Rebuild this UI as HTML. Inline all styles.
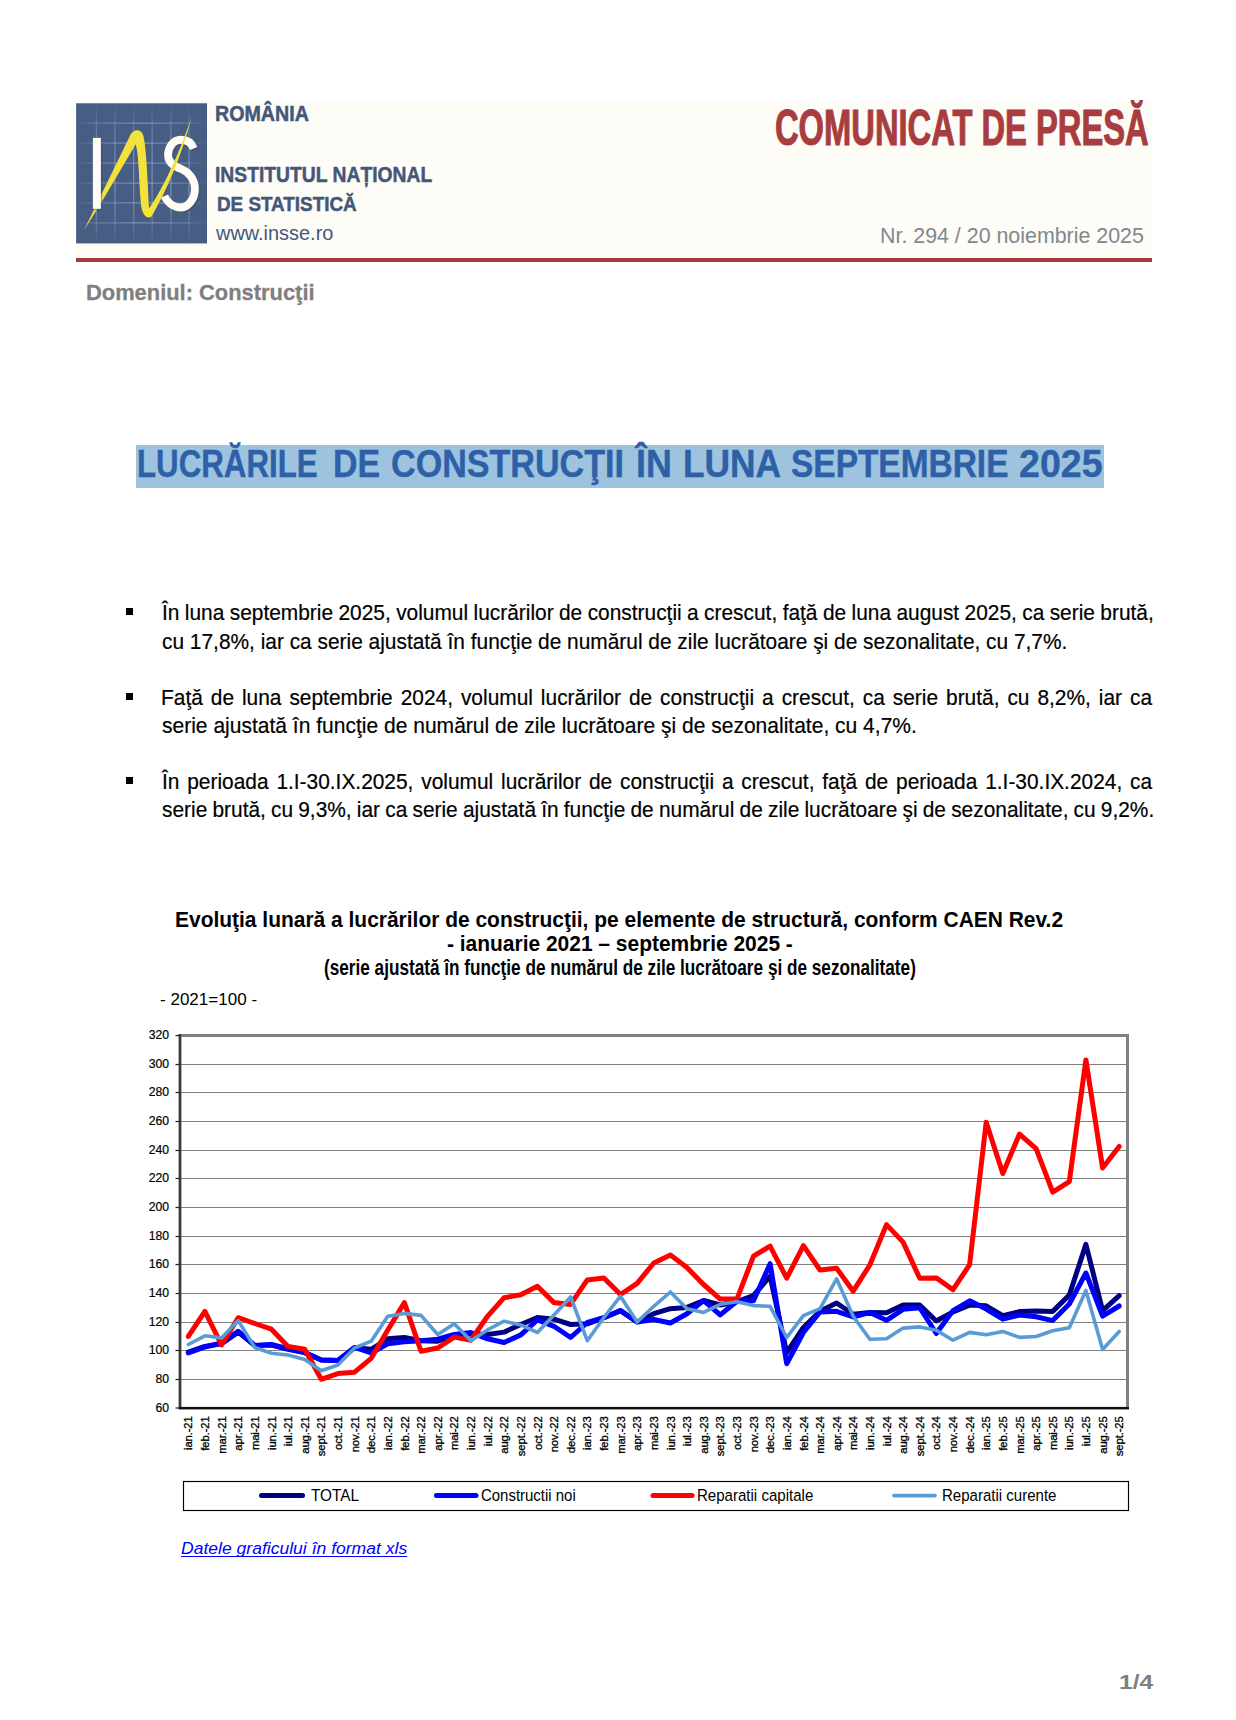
<!DOCTYPE html>
<html lang="ro"><head><meta charset="utf-8"><title>Comunicat de presă - Lucrările de construcţii în luna septembrie 2025</title>
<style>
html,body{margin:0;padding:0;background:#fff}
body{width:1236px;height:1720px;position:relative;overflow:hidden;font-family:"Liberation Sans", sans-serif}
.t{position:absolute;white-space:nowrap;line-height:1;transform-origin:0 0;display:block}
h1{margin:0;font-size:0;font-weight:normal}
.hdr{position:absolute;left:76px;top:101.2px;width:1076px;height:157.4px;background:#fefcf7}
.rule{position:absolute;left:76px;top:258.2px;width:1076px;height:4px;background:#a83a3e}
.hl{position:absolute;left:135.8px;top:445px;width:968px;height:42.5px;background:#9dc3df}
.bul{position:absolute;left:125.7px;width:7px;height:7px;background:#000}
</style></head><body>
<div class="hdr"></div><div class="rule"></div>
<svg class="logo" width="145" height="152" viewBox="0 0 1236 1296" style="position:absolute;left:70px;top:98px">
<defs><linearGradient id="gv" gradientUnits="userSpaceOnUse" x1="0" y1="45" x2="0" y2="1240"><stop offset="0" stop-color="#8aa0c8" stop-opacity="0"/><stop offset=".18" stop-color="#8aa0c8" stop-opacity=".45"/><stop offset=".5" stop-color="#8aa0c8" stop-opacity=".75"/><stop offset=".85" stop-color="#8aa0c8" stop-opacity=".45"/><stop offset="1" stop-color="#8aa0c8" stop-opacity="0"/></linearGradient><linearGradient id="gh" gradientUnits="userSpaceOnUse" x1="52" y1="0" x2="1168" y2="0"><stop offset="0" stop-color="#8aa0c8" stop-opacity="0"/><stop offset=".15" stop-color="#8aa0c8" stop-opacity=".45"/><stop offset=".5" stop-color="#8aa0c8" stop-opacity=".75"/><stop offset=".85" stop-color="#8aa0c8" stop-opacity=".45"/><stop offset="1" stop-color="#8aa0c8" stop-opacity="0"/></linearGradient></defs>
<rect x="52" y="45" width="1116" height="1195" fill="#485d84"/>
<line x1="225" x2="225" y1="45" y2="1240" stroke="url(#gv)" stroke-width="11"/>
<line x1="383" x2="383" y1="45" y2="1240" stroke="url(#gv)" stroke-width="11"/>
<line x1="543" x2="543" y1="45" y2="1240" stroke="url(#gv)" stroke-width="11"/>
<line x1="700" x2="700" y1="45" y2="1240" stroke="url(#gv)" stroke-width="11"/>
<line x1="860" x2="860" y1="45" y2="1240" stroke="url(#gv)" stroke-width="11"/>
<line x1="1015" x2="1015" y1="45" y2="1240" stroke="url(#gv)" stroke-width="11"/>
<line y1="215" y2="215" x1="52" x2="1168" stroke="url(#gh)" stroke-width="11"/>
<line y1="385" y2="385" x1="52" x2="1168" stroke="url(#gh)" stroke-width="11"/>
<line y1="555" y2="555" x1="52" x2="1168" stroke="url(#gh)" stroke-width="11"/>
<line y1="725" y2="725" x1="52" x2="1168" stroke="url(#gh)" stroke-width="11"/>
<line y1="895" y2="895" x1="52" x2="1168" stroke="url(#gh)" stroke-width="11"/>
<line y1="1065" y2="1065" x1="52" x2="1168" stroke="url(#gh)" stroke-width="11"/>
<path d="M1055 431 C1030 370 990 356 947 356 C880 356 836 420 836 489 C836 560 900 590 954 608 C1010 630 1065 690 1065 774 C1065 870 1000 934 942 934 C880 934 830 890 805 837" fill="none" stroke="#3a4a6a" stroke-opacity=".5" stroke-width="67" transform="translate(13,13)"/>
<path d="M1055 431 C1030 370 990 356 947 356 C880 356 836 420 836 489 C836 560 900 590 954 608 C1010 630 1065 690 1065 774 C1065 870 1000 934 942 934 C880 934 830 890 805 837" fill="none" stroke="#fffdf6" stroke-width="67"/>
<path d="M120 1125 L505 335 C530 270 600 250 625 320 C655 450 665 800 674 941 C775 800 915 520 1037 162 C945 520 815 800 698 1006 C670 1035 625 1020 608 930 C585 700 590 500 560 395 L262 900 Z" fill="#f4e23c"/>
<rect x="207" y="352" width="68" height="605" fill="#3a4a6a" fill-opacity=".45"/>
<rect x="195" y="340" width="68" height="605" fill="#fffdf6"/>
</svg>
<div class="hl"></div>
<div class="bul" style="top:608px"></div><div class="bul" style="top:693px"></div><div class="bul" style="top:777px"></div>
<svg class="chart" width="1236" height="1720" viewBox="0 0 1236 1720" style="position:absolute;left:0;top:0" font-family="Liberation Sans, sans-serif">
<line x1="180.0" x2="1127.5" y1="1379.5" y2="1379.5" stroke="#808080" stroke-width="1"/>
<line x1="180.0" x2="1127.5" y1="1350.5" y2="1350.5" stroke="#808080" stroke-width="1"/>
<line x1="180.0" x2="1127.5" y1="1322.5" y2="1322.5" stroke="#808080" stroke-width="1"/>
<line x1="180.0" x2="1127.5" y1="1293.5" y2="1293.5" stroke="#808080" stroke-width="1"/>
<line x1="180.0" x2="1127.5" y1="1264.5" y2="1264.5" stroke="#808080" stroke-width="1"/>
<line x1="180.0" x2="1127.5" y1="1236.5" y2="1236.5" stroke="#808080" stroke-width="1"/>
<line x1="180.0" x2="1127.5" y1="1207.5" y2="1207.5" stroke="#808080" stroke-width="1"/>
<line x1="180.0" x2="1127.5" y1="1178.5" y2="1178.5" stroke="#808080" stroke-width="1"/>
<line x1="180.0" x2="1127.5" y1="1150.5" y2="1150.5" stroke="#808080" stroke-width="1"/>
<line x1="180.0" x2="1127.5" y1="1121.5" y2="1121.5" stroke="#808080" stroke-width="1"/>
<line x1="180.0" x2="1127.5" y1="1092.5" y2="1092.5" stroke="#808080" stroke-width="1"/>
<line x1="180.0" x2="1127.5" y1="1064.5" y2="1064.5" stroke="#808080" stroke-width="1"/>
<rect x="180.0" y="1035.5" width="947.5" height="372.8" fill="none" stroke="#808080" stroke-width="3"/>
<line x1="180.0" x2="180.0" y1="1034.0" y2="1409.0" stroke="#3a3a3a" stroke-width="2.2"/>
<line x1="178.9" x2="1129.0" y1="1408.0" y2="1408.0" stroke="#111" stroke-width="2"/>
<line x1="175.5" x2="180.0" y1="1408.0" y2="1408.0" stroke="#222" stroke-width="1.2"/>
<text x="169" y="1411.6" font-size="12.2" text-anchor="end" stroke="#000" stroke-width=".2">60</text>
<line x1="175.5" x2="180.0" y1="1379.5" y2="1379.5" stroke="#222" stroke-width="1.2"/>
<text x="169" y="1382.9" font-size="12.2" text-anchor="end" stroke="#000" stroke-width=".2">80</text>
<line x1="175.5" x2="180.0" y1="1350.5" y2="1350.5" stroke="#222" stroke-width="1.2"/>
<text x="169" y="1354.3" font-size="12.2" text-anchor="end" stroke="#000" stroke-width=".2">100</text>
<line x1="175.5" x2="180.0" y1="1322.5" y2="1322.5" stroke="#222" stroke-width="1.2"/>
<text x="169" y="1325.6" font-size="12.2" text-anchor="end" stroke="#000" stroke-width=".2">120</text>
<line x1="175.5" x2="180.0" y1="1293.5" y2="1293.5" stroke="#222" stroke-width="1.2"/>
<text x="169" y="1297.0" font-size="12.2" text-anchor="end" stroke="#000" stroke-width=".2">140</text>
<line x1="175.5" x2="180.0" y1="1264.5" y2="1264.5" stroke="#222" stroke-width="1.2"/>
<text x="169" y="1268.3" font-size="12.2" text-anchor="end" stroke="#000" stroke-width=".2">160</text>
<line x1="175.5" x2="180.0" y1="1236.5" y2="1236.5" stroke="#222" stroke-width="1.2"/>
<text x="169" y="1239.7" font-size="12.2" text-anchor="end" stroke="#000" stroke-width=".2">180</text>
<line x1="175.5" x2="180.0" y1="1207.5" y2="1207.5" stroke="#222" stroke-width="1.2"/>
<text x="169" y="1211.0" font-size="12.2" text-anchor="end" stroke="#000" stroke-width=".2">200</text>
<line x1="175.5" x2="180.0" y1="1178.5" y2="1178.5" stroke="#222" stroke-width="1.2"/>
<text x="169" y="1182.4" font-size="12.2" text-anchor="end" stroke="#000" stroke-width=".2">220</text>
<line x1="175.5" x2="180.0" y1="1150.5" y2="1150.5" stroke="#222" stroke-width="1.2"/>
<text x="169" y="1153.7" font-size="12.2" text-anchor="end" stroke="#000" stroke-width=".2">240</text>
<line x1="175.5" x2="180.0" y1="1121.5" y2="1121.5" stroke="#222" stroke-width="1.2"/>
<text x="169" y="1125.1" font-size="12.2" text-anchor="end" stroke="#000" stroke-width=".2">260</text>
<line x1="175.5" x2="180.0" y1="1092.5" y2="1092.5" stroke="#222" stroke-width="1.2"/>
<text x="169" y="1096.4" font-size="12.2" text-anchor="end" stroke="#000" stroke-width=".2">280</text>
<line x1="175.5" x2="180.0" y1="1064.5" y2="1064.5" stroke="#222" stroke-width="1.2"/>
<text x="169" y="1067.8" font-size="12.2" text-anchor="end" stroke="#000" stroke-width=".2">300</text>
<line x1="175.5" x2="180.0" y1="1035.5" y2="1035.5" stroke="#222" stroke-width="1.2"/>
<text x="169" y="1039.1" font-size="12.2" text-anchor="end" stroke="#000" stroke-width=".2">320</text>
<polyline points="188.3,1352.1 204.9,1346.4 221.6,1343.8 238.2,1332.1 254.8,1345.5 271.4,1345.0 288.0,1349.3 304.7,1352.6 321.3,1360.0 337.9,1360.4 354.5,1347.8 371.2,1349.3 387.8,1338.8 404.4,1337.5 421.0,1340.7 437.7,1341.2 454.3,1334.9 470.9,1333.8 487.5,1334.5 504.1,1332.1 520.8,1324.5 537.4,1317.5 554.0,1319.2 570.6,1324.5 587.3,1323.8 603.9,1317.7 620.5,1310.6 637.1,1322.0 653.8,1313.7 670.4,1308.7 687.0,1307.4 703.6,1300.5 720.2,1305.0 736.9,1301.7 753.5,1295.5 770.1,1276.2 786.7,1352.6 803.4,1327.5 820.0,1311.3 836.6,1303.0 853.2,1314.3 869.8,1312.4 886.5,1312.7 903.1,1305.1 919.7,1305.1 936.3,1321.0 953.0,1311.9 969.6,1305.1 986.2,1305.8 1002.8,1315.6 1019.5,1311.6 1036.1,1311.0 1052.7,1311.4 1069.3,1295.1 1085.9,1244.4 1102.6,1310.7 1119.2,1295.7" fill="none" stroke="#000080" stroke-width="5" stroke-linejoin="round" stroke-linecap="round"/>
<polyline points="188.3,1353.0 204.9,1347.0 221.6,1343.0 238.2,1331.2 254.8,1345.5 271.4,1344.5 288.0,1348.7 304.7,1352.6 321.3,1360.0 337.9,1360.4 354.5,1347.5 371.2,1353.0 387.8,1343.8 404.4,1341.8 421.0,1340.7 437.7,1339.2 454.3,1334.5 470.9,1332.5 487.5,1338.8 504.1,1342.5 520.8,1334.9 537.4,1320.0 554.0,1326.3 570.6,1337.5 587.3,1322.5 603.9,1317.7 620.5,1310.6 637.1,1322.0 653.8,1319.5 670.4,1323.0 687.0,1313.7 703.6,1300.5 720.2,1314.9 736.9,1301.3 753.5,1300.7 770.1,1263.7 786.7,1363.7 803.4,1332.5 820.0,1312.0 836.6,1311.3 853.2,1317.0 869.8,1312.4 886.5,1320.3 903.1,1309.3 919.7,1307.7 936.3,1333.5 953.0,1310.6 969.6,1300.8 986.2,1309.0 1002.8,1319.2 1019.5,1315.0 1036.1,1316.7 1052.7,1320.6 1069.3,1304.0 1085.9,1273.0 1102.6,1316.2 1119.2,1306.0" fill="none" stroke="#0000ff" stroke-width="5" stroke-linejoin="round" stroke-linecap="round"/>
<polyline points="188.3,1336.4 204.9,1311.3 221.6,1345.0 238.2,1317.7 254.8,1323.5 271.4,1329.2 288.0,1346.4 304.7,1349.3 321.3,1379.3 337.9,1373.6 354.5,1372.2 371.2,1358.3 387.8,1329.9 404.4,1302.6 421.0,1351.3 437.7,1348.0 454.3,1337.1 470.9,1340.2 487.5,1316.3 504.1,1297.7 520.8,1294.8 537.4,1286.2 554.0,1302.6 570.6,1304.4 587.3,1279.9 603.9,1277.9 620.5,1294.5 637.1,1283.4 653.8,1263.0 670.4,1255.0 687.0,1267.6 703.6,1284.5 720.2,1299.1 736.9,1299.1 753.5,1256.1 770.1,1246.1 786.7,1278.2 803.4,1245.7 820.0,1270.0 836.6,1268.2 853.2,1291.2 869.8,1265.0 886.5,1224.6 903.1,1242.1 919.7,1278.3 936.3,1277.9 953.0,1289.7 969.6,1264.7 986.2,1122.2 1002.8,1173.5 1019.5,1134.1 1036.1,1148.7 1052.7,1192.2 1069.3,1181.6 1085.9,1059.9 1102.6,1168.0 1119.2,1146.5" fill="none" stroke="#ff0000" stroke-width="5" stroke-linejoin="round" stroke-linecap="round"/>
<polyline points="188.3,1344.5 204.9,1335.8 221.6,1337.9 238.2,1320.6 254.8,1347.5 271.4,1353.3 288.0,1355.0 304.7,1359.4 321.3,1370.8 337.9,1365.0 354.5,1348.0 371.2,1341.2 387.8,1316.3 404.4,1313.4 421.0,1315.4 437.7,1334.5 454.3,1323.8 470.9,1340.7 487.5,1329.9 504.1,1321.2 520.8,1324.9 537.4,1332.5 554.0,1314.9 570.6,1297.0 587.3,1340.7 603.9,1317.5 620.5,1296.2 637.1,1322.0 653.8,1306.3 670.4,1292.0 687.0,1308.7 703.6,1312.4 720.2,1304.3 736.9,1301.7 753.5,1305.6 770.1,1306.3 786.7,1337.5 803.4,1315.7 820.0,1308.7 836.6,1278.8 853.2,1316.3 869.8,1339.2 886.5,1338.8 903.1,1328.1 919.7,1326.9 936.3,1330.2 953.0,1340.2 969.6,1332.4 986.2,1334.8 1002.8,1331.4 1019.5,1337.4 1036.1,1336.5 1052.7,1330.8 1069.3,1327.8 1085.9,1290.4 1102.6,1349.5 1119.2,1331.5" fill="none" stroke="#5b9bd5" stroke-width="3.6" stroke-linejoin="round" stroke-linecap="round"/>
<text transform="translate(192.4,1416.3) rotate(-90)" font-size="11.3" letter-spacing="-.12" text-anchor="end" stroke="#000" stroke-width=".3">ian.-21</text>
<text transform="translate(209.0,1416.3) rotate(-90)" font-size="11.3" letter-spacing="-.12" text-anchor="end" stroke="#000" stroke-width=".3">feb.-21</text>
<text transform="translate(225.7,1416.3) rotate(-90)" font-size="11.3" letter-spacing="-.12" text-anchor="end" stroke="#000" stroke-width=".3">mar.-21</text>
<text transform="translate(242.3,1416.3) rotate(-90)" font-size="11.3" letter-spacing="-.12" text-anchor="end" stroke="#000" stroke-width=".3">apr.-21</text>
<text transform="translate(258.9,1416.3) rotate(-90)" font-size="11.3" letter-spacing="-.12" text-anchor="end" stroke="#000" stroke-width=".3">mai-21</text>
<text transform="translate(275.5,1416.3) rotate(-90)" font-size="11.3" letter-spacing="-.12" text-anchor="end" stroke="#000" stroke-width=".3">iun.-21</text>
<text transform="translate(292.1,1416.3) rotate(-90)" font-size="11.3" letter-spacing="-.12" text-anchor="end" stroke="#000" stroke-width=".3">iul.-21</text>
<text transform="translate(308.8,1416.3) rotate(-90)" font-size="11.3" letter-spacing="-.12" text-anchor="end" stroke="#000" stroke-width=".3">aug.-21</text>
<text transform="translate(325.4,1416.3) rotate(-90)" font-size="11.3" letter-spacing="-.12" text-anchor="end" stroke="#000" stroke-width=".3">sept.-21</text>
<text transform="translate(342.0,1416.3) rotate(-90)" font-size="11.3" letter-spacing="-.12" text-anchor="end" stroke="#000" stroke-width=".3">oct.-21</text>
<text transform="translate(358.6,1416.3) rotate(-90)" font-size="11.3" letter-spacing="-.12" text-anchor="end" stroke="#000" stroke-width=".3">nov.-21</text>
<text transform="translate(375.3,1416.3) rotate(-90)" font-size="11.3" letter-spacing="-.12" text-anchor="end" stroke="#000" stroke-width=".3">dec.-21</text>
<text transform="translate(391.9,1416.3) rotate(-90)" font-size="11.3" letter-spacing="-.12" text-anchor="end" stroke="#000" stroke-width=".3">ian.-22</text>
<text transform="translate(408.5,1416.3) rotate(-90)" font-size="11.3" letter-spacing="-.12" text-anchor="end" stroke="#000" stroke-width=".3">feb.-22</text>
<text transform="translate(425.1,1416.3) rotate(-90)" font-size="11.3" letter-spacing="-.12" text-anchor="end" stroke="#000" stroke-width=".3">mar.-22</text>
<text transform="translate(441.8,1416.3) rotate(-90)" font-size="11.3" letter-spacing="-.12" text-anchor="end" stroke="#000" stroke-width=".3">apr.-22</text>
<text transform="translate(458.4,1416.3) rotate(-90)" font-size="11.3" letter-spacing="-.12" text-anchor="end" stroke="#000" stroke-width=".3">mai-22</text>
<text transform="translate(475.0,1416.3) rotate(-90)" font-size="11.3" letter-spacing="-.12" text-anchor="end" stroke="#000" stroke-width=".3">iun.-22</text>
<text transform="translate(491.6,1416.3) rotate(-90)" font-size="11.3" letter-spacing="-.12" text-anchor="end" stroke="#000" stroke-width=".3">iul.-22</text>
<text transform="translate(508.2,1416.3) rotate(-90)" font-size="11.3" letter-spacing="-.12" text-anchor="end" stroke="#000" stroke-width=".3">aug.-22</text>
<text transform="translate(524.9,1416.3) rotate(-90)" font-size="11.3" letter-spacing="-.12" text-anchor="end" stroke="#000" stroke-width=".3">sept.-22</text>
<text transform="translate(541.5,1416.3) rotate(-90)" font-size="11.3" letter-spacing="-.12" text-anchor="end" stroke="#000" stroke-width=".3">oct.-22</text>
<text transform="translate(558.1,1416.3) rotate(-90)" font-size="11.3" letter-spacing="-.12" text-anchor="end" stroke="#000" stroke-width=".3">nov.-22</text>
<text transform="translate(574.7,1416.3) rotate(-90)" font-size="11.3" letter-spacing="-.12" text-anchor="end" stroke="#000" stroke-width=".3">dec.-22</text>
<text transform="translate(591.4,1416.3) rotate(-90)" font-size="11.3" letter-spacing="-.12" text-anchor="end" stroke="#000" stroke-width=".3">ian.-23</text>
<text transform="translate(608.0,1416.3) rotate(-90)" font-size="11.3" letter-spacing="-.12" text-anchor="end" stroke="#000" stroke-width=".3">feb.-23</text>
<text transform="translate(624.6,1416.3) rotate(-90)" font-size="11.3" letter-spacing="-.12" text-anchor="end" stroke="#000" stroke-width=".3">mar.-23</text>
<text transform="translate(641.2,1416.3) rotate(-90)" font-size="11.3" letter-spacing="-.12" text-anchor="end" stroke="#000" stroke-width=".3">apr.-23</text>
<text transform="translate(657.9,1416.3) rotate(-90)" font-size="11.3" letter-spacing="-.12" text-anchor="end" stroke="#000" stroke-width=".3">mai-23</text>
<text transform="translate(674.5,1416.3) rotate(-90)" font-size="11.3" letter-spacing="-.12" text-anchor="end" stroke="#000" stroke-width=".3">iun.-23</text>
<text transform="translate(691.1,1416.3) rotate(-90)" font-size="11.3" letter-spacing="-.12" text-anchor="end" stroke="#000" stroke-width=".3">iul.-23</text>
<text transform="translate(707.7,1416.3) rotate(-90)" font-size="11.3" letter-spacing="-.12" text-anchor="end" stroke="#000" stroke-width=".3">aug.-23</text>
<text transform="translate(724.3,1416.3) rotate(-90)" font-size="11.3" letter-spacing="-.12" text-anchor="end" stroke="#000" stroke-width=".3">sept.-23</text>
<text transform="translate(741.0,1416.3) rotate(-90)" font-size="11.3" letter-spacing="-.12" text-anchor="end" stroke="#000" stroke-width=".3">oct.-23</text>
<text transform="translate(757.6,1416.3) rotate(-90)" font-size="11.3" letter-spacing="-.12" text-anchor="end" stroke="#000" stroke-width=".3">nov.-23</text>
<text transform="translate(774.2,1416.3) rotate(-90)" font-size="11.3" letter-spacing="-.12" text-anchor="end" stroke="#000" stroke-width=".3">dec.-23</text>
<text transform="translate(790.8,1416.3) rotate(-90)" font-size="11.3" letter-spacing="-.12" text-anchor="end" stroke="#000" stroke-width=".3">ian.-24</text>
<text transform="translate(807.5,1416.3) rotate(-90)" font-size="11.3" letter-spacing="-.12" text-anchor="end" stroke="#000" stroke-width=".3">feb.-24</text>
<text transform="translate(824.1,1416.3) rotate(-90)" font-size="11.3" letter-spacing="-.12" text-anchor="end" stroke="#000" stroke-width=".3">mar.-24</text>
<text transform="translate(840.7,1416.3) rotate(-90)" font-size="11.3" letter-spacing="-.12" text-anchor="end" stroke="#000" stroke-width=".3">apr.-24</text>
<text transform="translate(857.3,1416.3) rotate(-90)" font-size="11.3" letter-spacing="-.12" text-anchor="end" stroke="#000" stroke-width=".3">mai-24</text>
<text transform="translate(873.9,1416.3) rotate(-90)" font-size="11.3" letter-spacing="-.12" text-anchor="end" stroke="#000" stroke-width=".3">iun.-24</text>
<text transform="translate(890.6,1416.3) rotate(-90)" font-size="11.3" letter-spacing="-.12" text-anchor="end" stroke="#000" stroke-width=".3">iul.-24</text>
<text transform="translate(907.2,1416.3) rotate(-90)" font-size="11.3" letter-spacing="-.12" text-anchor="end" stroke="#000" stroke-width=".3">aug.-24</text>
<text transform="translate(923.8,1416.3) rotate(-90)" font-size="11.3" letter-spacing="-.12" text-anchor="end" stroke="#000" stroke-width=".3">sept.-24</text>
<text transform="translate(940.4,1416.3) rotate(-90)" font-size="11.3" letter-spacing="-.12" text-anchor="end" stroke="#000" stroke-width=".3">oct.-24</text>
<text transform="translate(957.1,1416.3) rotate(-90)" font-size="11.3" letter-spacing="-.12" text-anchor="end" stroke="#000" stroke-width=".3">nov.-24</text>
<text transform="translate(973.7,1416.3) rotate(-90)" font-size="11.3" letter-spacing="-.12" text-anchor="end" stroke="#000" stroke-width=".3">dec.-24</text>
<text transform="translate(990.3,1416.3) rotate(-90)" font-size="11.3" letter-spacing="-.12" text-anchor="end" stroke="#000" stroke-width=".3">ian.-25</text>
<text transform="translate(1006.9,1416.3) rotate(-90)" font-size="11.3" letter-spacing="-.12" text-anchor="end" stroke="#000" stroke-width=".3">feb.-25</text>
<text transform="translate(1023.6,1416.3) rotate(-90)" font-size="11.3" letter-spacing="-.12" text-anchor="end" stroke="#000" stroke-width=".3">mar.-25</text>
<text transform="translate(1040.2,1416.3) rotate(-90)" font-size="11.3" letter-spacing="-.12" text-anchor="end" stroke="#000" stroke-width=".3">apr.-25</text>
<text transform="translate(1056.8,1416.3) rotate(-90)" font-size="11.3" letter-spacing="-.12" text-anchor="end" stroke="#000" stroke-width=".3">mai-25</text>
<text transform="translate(1073.4,1416.3) rotate(-90)" font-size="11.3" letter-spacing="-.12" text-anchor="end" stroke="#000" stroke-width=".3">iun.-25</text>
<text transform="translate(1090.0,1416.3) rotate(-90)" font-size="11.3" letter-spacing="-.12" text-anchor="end" stroke="#000" stroke-width=".3">iul.-25</text>
<text transform="translate(1106.7,1416.3) rotate(-90)" font-size="11.3" letter-spacing="-.12" text-anchor="end" stroke="#000" stroke-width=".3">aug.-25</text>
<text transform="translate(1123.3,1416.3) rotate(-90)" font-size="11.3" letter-spacing="-.12" text-anchor="end" stroke="#000" stroke-width=".3">sept.-25</text>
<rect x="183.5" y="1481.5" width="945" height="29" fill="#fff" stroke="#000" stroke-width="1.15"/>
<line x1="261.5" x2="302.5" y1="1495.6" y2="1495.6" stroke="#000080" stroke-width="5" stroke-linecap="round"/>
<line x1="436.5" x2="476" y1="1495.6" y2="1495.6" stroke="#0000ff" stroke-width="5" stroke-linecap="round"/>
<line x1="653" x2="692" y1="1495.6" y2="1495.6" stroke="#ff0000" stroke-width="5" stroke-linecap="round"/>
<line x1="894" x2="935" y1="1495.6" y2="1495.6" stroke="#5b9bd5" stroke-width="3.6" stroke-linecap="round"/>
</svg>
<div class="t" id="h1" style="left:214.8px;top:103px;font-size:21.18px;color:#44577a;font-weight:bold;-webkit-text-stroke:.5px #44577a;transform:scaleX(0.9287);">ROMÂNIA</div>
<div class="t" id="h2" style="left:214.9px;top:164px;font-size:22.33px;color:#44577a;font-weight:bold;-webkit-text-stroke:.5px #44577a;transform:scaleX(0.8643);">INSTITUTUL NAȚIONAL</div>
<div class="t" id="h3" style="left:216.9px;top:193px;font-size:21.04px;color:#44577a;font-weight:bold;-webkit-text-stroke:.5px #44577a;transform:scaleX(0.8963);">DE STATISTICĂ</div>
<div class="t" id="h4" style="left:216.0px;top:223px;font-size:20.2px;color:#44577a;transform:scaleX(0.9868);">www.insse.ro</div>
<div class="t" id="cp" style="left:774.9px;top:103px;font-size:50.29px;color:#a83c3f;font-weight:bold;-webkit-text-stroke:1.1px #a83c3f;transform:scaleX(0.6504);">COMUNICAT DE PRESĂ</div>
<div class="t" id="nr" style="left:880.3px;top:225px;font-size:21.76px;color:#808890;transform:scaleX(0.9830);">Nr. 294 / 20 noiembrie 2025</div>
<div class="t" id="dom" style="left:85.9px;top:282px;font-size:22.62px;color:#7f7f7f;font-weight:bold;-webkit-text-stroke:.3px #7f7f7f;transform:scaleX(0.9678);">Domeniul: Construcţii</div>
<h1 id="title"><span class="t" id="tw0" style="left:136.9px;top:445px;font-size:38.33px;color:#2e60a8;font-weight:bold;-webkit-text-stroke:.4px #2e60a8;transform:scaleX(0.8157);">LUCRĂRILE</span> <span class="t" id="tw1" style="left:333.0px;top:445px;font-size:38.33px;color:#2e60a8;font-weight:bold;-webkit-text-stroke:.4px #2e60a8;transform:scaleX(0.8837);">DE</span> <span class="t" id="tw2" style="left:390.8px;top:445px;font-size:38.33px;color:#2e60a8;font-weight:bold;-webkit-text-stroke:.4px #2e60a8;transform:scaleX(0.8898);">CONSTRUCŢII</span> <span class="t" id="tw3" style="left:636.2px;top:445px;font-size:38.33px;color:#2e60a8;font-weight:bold;-webkit-text-stroke:.4px #2e60a8;transform:scaleX(0.9352);">ÎN</span> <span class="t" id="tw4" style="left:682.5px;top:445px;font-size:38.33px;color:#2e60a8;font-weight:bold;-webkit-text-stroke:.4px #2e60a8;transform:scaleX(0.9218);">LUNA</span> <span class="t" id="tw5" style="left:790.6px;top:445px;font-size:38.33px;color:#2e60a8;font-weight:bold;-webkit-text-stroke:.4px #2e60a8;transform:scaleX(0.8728);">SEPTEMBRIE</span> <span class="t" id="tw6" style="left:1019.1px;top:445px;font-size:38.33px;color:#2e60a8;font-weight:bold;-webkit-text-stroke:.4px #2e60a8;transform:scaleX(0.9798);">2025</span></h1>
<div class="t" id="p1a" style="left:162.4px;top:602px;font-size:22.3px;color:#000;-webkit-text-stroke:.2px #000;word-spacing:-0.424px;transform:scaleX(0.9368);">În luna septembrie 2025, volumul lucrărilor de construcţii a crescut, faţă de luna august 2025, ca serie brută,</div>
<div class="t" id="p1b" style="left:162.0px;top:631px;font-size:22.3px;color:#000;-webkit-text-stroke:.2px #000;transform:scaleX(0.9365);">cu 17,8%, iar ca serie ajustată în funcţie de numărul de zile lucrătoare şi de sezonalitate, cu 7,7%.</div>
<div class="t" id="p2a" style="left:161.2px;top:687px;font-size:22.3px;color:#000;-webkit-text-stroke:.2px #000;word-spacing:2.305px;transform:scaleX(0.9368);">Faţă de luna septembrie 2024, volumul lucrărilor de construcţii a crescut, ca serie brută, cu 8,2%, iar ca</div>
<div class="t" id="p2b" style="left:161.9px;top:715px;font-size:22.3px;color:#000;-webkit-text-stroke:.2px #000;transform:scaleX(0.9428);">serie ajustată în funcţie de numărul de zile lucrătoare şi de sezonalitate, cu 4,7%.</div>
<div class="t" id="p3a" style="left:162.4px;top:771px;font-size:22.3px;color:#000;-webkit-text-stroke:.2px #000;word-spacing:2.166px;transform:scaleX(0.9368);">În perioada 1.I-30.IX.2025, volumul lucrărilor de construcţii a crescut, faţă de perioada 1.I-30.IX.2024, ca</div>
<div class="t" id="p3b" style="left:161.9px;top:799px;font-size:22.3px;color:#000;-webkit-text-stroke:.2px #000;word-spacing:-0.678px;transform:scaleX(0.9368);">serie brută, cu 9,3%, iar ca serie ajustată în funcţie de numărul de zile lucrătoare şi de sezonalitate, cu 9,2%.</div>
<div class="t" id="ct1" style="left:175.0px;top:909px;font-size:21.61px;color:#000;font-weight:bold;transform:scaleX(0.9697);">Evoluţia lunară a lucrărilor de construcţii, pe elemente de structură, conform CAEN Rev.2</div>
<div class="t" id="ct2" style="left:447.4px;top:933px;font-size:21.61px;color:#000;font-weight:bold;transform:scaleX(0.9694);">- ianuarie 2021 – septembrie 2025 -</div>
<div class="t" id="ct3" style="left:324.0px;top:958px;font-size:21.33px;color:#000;font-weight:bold;transform:scaleX(0.8054);">(serie ajustată în funcţie de numărul de zile lucrătoare şi de sezonalitate)</div>
<div class="t" id="unit" style="left:159.7px;top:991px;font-size:17.29px;color:#000;transform:scaleX(0.9856);">- 2021=100 -</div>
<div class="t" id="lg1" style="left:311.3px;top:1488px;font-size:15.85px;color:#000;transform:scaleX(0.9680);">TOTAL</div>
<div class="t" id="lg2" style="left:480.6px;top:1488px;font-size:15.85px;color:#000;transform:scaleX(0.9439);">Constructii noi</div>
<div class="t" id="lg3" style="left:696.8px;top:1488px;font-size:15.85px;color:#000;transform:scaleX(0.9497);">Reparatii capitale</div>
<div class="t" id="lg4" style="left:942.3px;top:1488px;font-size:15.85px;color:#000;transform:scaleX(0.9482);">Reparatii curente</div>
<a class="t" id="link" style="left:181.2px;top:1540px;font-size:17.29px;color:#0000ff;font-style:italic;text-decoration:underline;text-underline-offset:2.2px;text-decoration-skip-ink:none;text-decoration-thickness:1px;transform:scaleX(1.0149);">Datele graficului în format xls</a>
<div class="t" id="pg" style="left:1119.2px;top:1671px;font-size:21.04px;color:#7f7f7f;font-weight:bold;transform:scaleX(1.1699);">1/4</div>
</body></html>
